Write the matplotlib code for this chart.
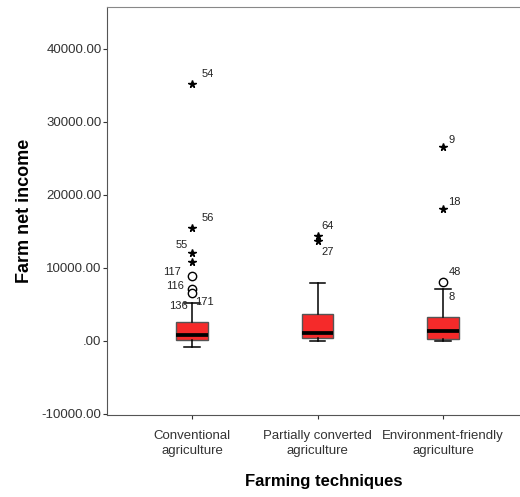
import matplotlib
matplotlib.use("Agg")
import matplotlib.pyplot as plt

plt.rcParams['font.family'] = ['Liberation Sans', 'DejaVu Sans']

# box summary
groups = ['Conventional\nagriculture', 'Partially converted\nagriculture', 'Environment-friendly\nagriculture']
q1 = [100, 400, 270]
med = [820, 1100, 1370]
q3 = [2600, 3700, 3300]
whislo = [-820, -50, 0]
whishi = [5200, 7950, 7120]

# outliers: group index, value, case label, marker ('' = hidden by whisker cap)
out_group = [0, 0, 0, 0, 0, 0, 0, 0, 0, 1, 1, 2, 2, 2, 2]
out_value = [35200, 15480, 12060, 10820, 8900, 7120, 6580, 5200, 5200, 14400, 13700, 26600, 18100, 8080, 7120]
out_label = ['54', '56', '55', '', '117', '116', '', '136', '171', '64', '27', '9', '18', '48', '8']
out_marker = ['*', '*', '*', '*', 'o', 'o', 'o', '', '', '*', '*', '*', '*', 'o', '']
# label offsets in points
out_dx = [7, 7, -3, 0, -8, -6, 0, -3, 2, 3, 3, 4, 4, 4, 4]
out_dy = [7, 7, 6, 0, 3, 2, 0, -2, 1, 7, -8, 5, 5, 7, -6]
out_ha = ['left', 'left', 'right', 'left', 'right', 'right', 'left', 'right', 'left', 'left', 'left', 'left', 'left', 'left', 'left']

fig = plt.figure(figsize=(5.2, 4.97), dpi=100)
ax = fig.add_axes([107/520, (497-415)/497, (540-107)/520, (415-7)/497])

stats = []
for i in range(3):
    stats.append(dict(q1=q1[i], med=med[i], q3=q3[i], whislo=whislo[i], whishi=whishi[i], fliers=[]))

ax.bxp(stats, positions=[1, 2, 3], widths=0.25, patch_artist=True, showfliers=False,
       boxprops=dict(facecolor='#F52A2A', edgecolor='#555555', linewidth=1),
       medianprops=dict(color='black', linewidth=2.7),
       whiskerprops=dict(color='black', linewidth=1.1),
       capprops=dict(color='black', linewidth=1.1), capwidths=0.12)

for g, v, lab, m, dx, dy, ha in zip(out_group, out_value, out_label, out_marker, out_dx, out_dy, out_ha):
    if m == 'o':
        ax.plot(g + 1, v, marker='o', ms=6, mfc='white', mec='black', mew=1, ls='none')
    elif m == '*':
        ax.plot(g + 1, v, marker='*', ms=5.5, color='black', ls='none')
    if lab:
        ax.annotate(lab, (g + 1, v), xytext=(dx, dy), textcoords='offset points',
                    ha=ha, va='center', fontsize=8, color='#222222')

ax.set_xlim(1 - 85/125.5, 3 + 97/125.5)
ax.set_ylim(-10140, 45750)
ax.set_yticks([-10000, 0, 10000, 20000, 30000, 40000])
ax.set_yticklabels(['-10000.00', '.00', '10000.00', '20000.00', '30000.00', '40000.00'])
ax.set_xticks([1, 2, 3])
ax.set_xticklabels(groups, linespacing=1.3)
ax.tick_params(labelsize=9.5, labelcolor='#333333', length=3, color='#333333')
ax.tick_params(axis='x', pad=8)
ax.tick_params(axis='y', pad=1)

for s in ax.spines.values():
    s.set_color('#555555')
ax.spines['top'].set_color('#888888')

ax.set_xlabel('Farming techniques', fontsize=12, fontweight='bold', labelpad=12)
ax.set_ylabel('Farm net income', fontsize=13, fontweight='bold', labelpad=6)

fig.savefig('out.png', dpi=100)
